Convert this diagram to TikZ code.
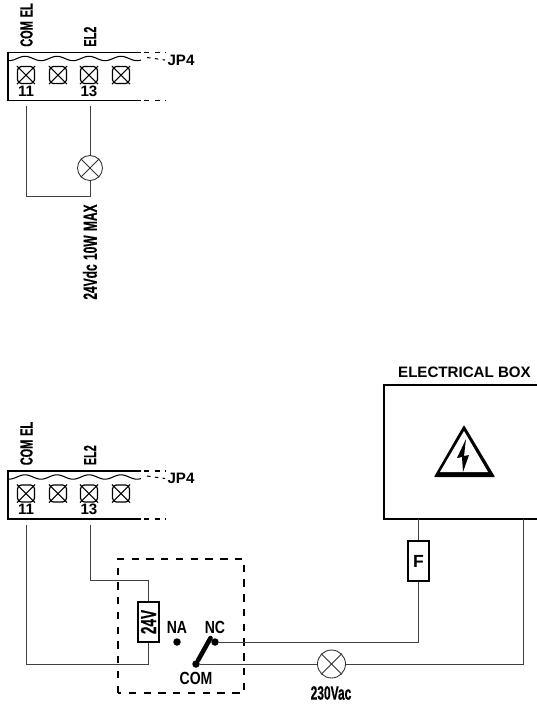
\documentclass[tikz,border=0pt]{standalone}
\usepackage{fontspec}
\setmainfont{Liberation Sans}
\newfontfamily\narrowfont{Liberation Sans}[FakeStretch=0.8]
\newfontfamily\slimfont{Liberation Sans}[FakeStretch=0.62,WordSpace=1.3,BoldFeatures={FakeBold=0.4}]
\newcommand{\lampx}[1]{\draw [lampline] (#1.45) -- (#1.225) (#1.135) -- (#1.315);}
\begin{document}
\begin{tikzpicture}[x=0.02cm,y=0.02cm]
\tikzset{
every node/.append style={inner sep=0pt,font=\bfseries\fontsize{8.6}{10}\selectfont},
narrowtext/.style={font=\narrowfont\bfseries\fontsize{10}{12}\selectfont},
slimtext/.style={font=\slimfont\bfseries\fontsize{#1}{12}\selectfont},
wire/.style={draw=black!75,line width=0.55pt},
blockline/.style={black,line width=0.8pt},
lampline/.style={black!80,line width=0.5pt},
lamp/.style={circle,draw=black!80,fill=white,line width=0.5pt,minimum size=#1*0.02cm},
screw/.style={rectangle,rounded corners=2.2pt,draw=black,line width=0.7pt,minimum size=17*0.02cm},
fuse/.style={rectangle,draw=black,fill=white,line width=0.8pt,minimum width=21*0.02cm,minimum height=40*0.02cm},
point/.style={circle,fill=black,minimum size=7.5*0.02cm}
}
\useasboundingbox (0,0) rectangle (537,-704);
% terminal blocks
\foreach \b/\dy in {a/0,b/-418.5}{
\begin{scope}[yshift=\dy*0.02cm]
\draw [blockline] (141,-52.5) -- (8,-52.5) -- (8,-100.5) -- (141,-100.5);
\draw [blockline,dash pattern=on 3pt off 3pt,line width=0.7pt] (144,-52.5) -- (166,-52.5);
\draw [blockline,dash pattern=on 3pt off 3pt,line width=0.7pt] (144,-100.5) -- (166,-100.5);
\draw [blockline,dash pattern=on 2pt off 2.5pt,line width=0.6pt] (147,-57.5) -- (165,-60);
\draw [black,line width=0.6pt] plot [domain=8:141,samples=70] (\x,{-58.5+2.2*cos(11.25*(\x-25))});
\foreach \s/\x in {1/26,2/58,3/89,4/121}{
\node [screw] (\b s\s) at (\x,-75) {};
\draw [black,line width=0.6pt] (\b s\s.north west) -- (\b s\s.south east) (\b s\s.north east) -- (\b s\s.south west);
}
\node (\b n1) at (26,-91) {11};
\node (\b n3) at (89,-91) {13};
\node [rotate=90,anchor=west,slimtext=10] (\b com) at (26.5,-47) {COM EL};
\node [rotate=90,anchor=west,slimtext=10] (\b el) at (90,-47) {EL2};
\node (\b jp) at (181,-60) {JP4};
\coordinate (\b t1) at (26,-106);
\coordinate (\b t3) at (90,-106);
\end{scope}
}
% lamp at the top
\node [lamp=25] (lampa) at (90,-168) {};
\lampx{lampa}
\coordinate (cornera) at (26,-196);
\coordinate (cornerb) at (90,-196);
\draw [wire] (at3) -- (lampa);
\draw [wire] (lampa) -- (cornerb) -- (cornera) -- (at1);
\node [rotate=90,slimtext=11] (maxlabel) at (90,-252) {24Vdc 10W MAX};
% electrical box
\coordinate (boxa) at (537,-385);
\coordinate (boxb) at (384,-385);
\coordinate (boxc) at (384,-519);
\coordinate (boxd) at (537,-519);
\draw [blockline] (boxa) -- (boxb) -- (boxc) -- (boxd);
\node (boxlabel) at (464.5,-372) {ELECTRICAL BOX};
\fill [black,rounded corners=0.4pt] (464,-425) -- (495,-477) -- (434,-477) -- cycle;
\fill [white] (464,-431) -- (488,-472) -- (440,-472) -- cycle;
\fill [black] (466,-439) -- (457,-458) -- (462,-457) -- (463,-472) -- (469,-455) -- (464,-456) -- cycle;
% relay
\draw [black,line width=0.7pt,dash pattern=on 4.2pt off 4.2pt] (118,-693) -- (118,-559) -- (244,-559) -- (244,-693) -- (118,-693);
\node [fuse] (coil) at (148.5,-622) {\rotatebox{90}{\slimfont\bfseries\fontsize{12.5}{14}\selectfont 24V}};
\node [point] (na) at (177,-642) {};
\node [point] (nc) at (215,-642) {};
\node [point] (com) at (196,-664) {};
\node [narrowtext] (nalabel) at (177,-627) {NA};
\node [narrowtext] (nclabel) at (215,-627) {NC};
\node [narrowtext] (comlabel) at (196,-678) {COM};
\coordinate (swtip) at (210.5,-638);
\draw [black,line width=2.6pt,line cap=round] (com) -- (swtip);
\coordinate (cola) at (90,-580);
\coordinate (colb) at (148.5,-580);
\coordinate (colc) at (148.5,-664);
\coordinate (cold) at (26,-664);
\draw [wire] (bt3) -- (cola) -- (colb) -- (coil);
\draw [wire] (coil) -- (colc) -- (cold) -- (bt1);
% fuse and lamp
\node [fuse] (fuse) at (418.5,-561) {\fontsize{10}{12}\selectfont F};
\coordinate (fusetop) at (418.5,-519);
\coordinate (fusebot) at (418.5,-642);
\coordinate (boxr) at (523,-519);
\coordinate (boxrb) at (523,-664);
\node [lamp=28] (lampb) at (331.5,-664) {};
\lampx{lampb}
\draw [wire] (fusetop) -- (fuse);
\draw [wire] (fuse) -- (fusebot) -- (nc);
\draw [wire] (com) -- (lampb);
\draw [wire] (lampb) -- (boxrb) -- (boxr);
\node [slimtext=11] (lamplabel) at (331,-693) {230Vac};
\end{tikzpicture}
\end{document}
